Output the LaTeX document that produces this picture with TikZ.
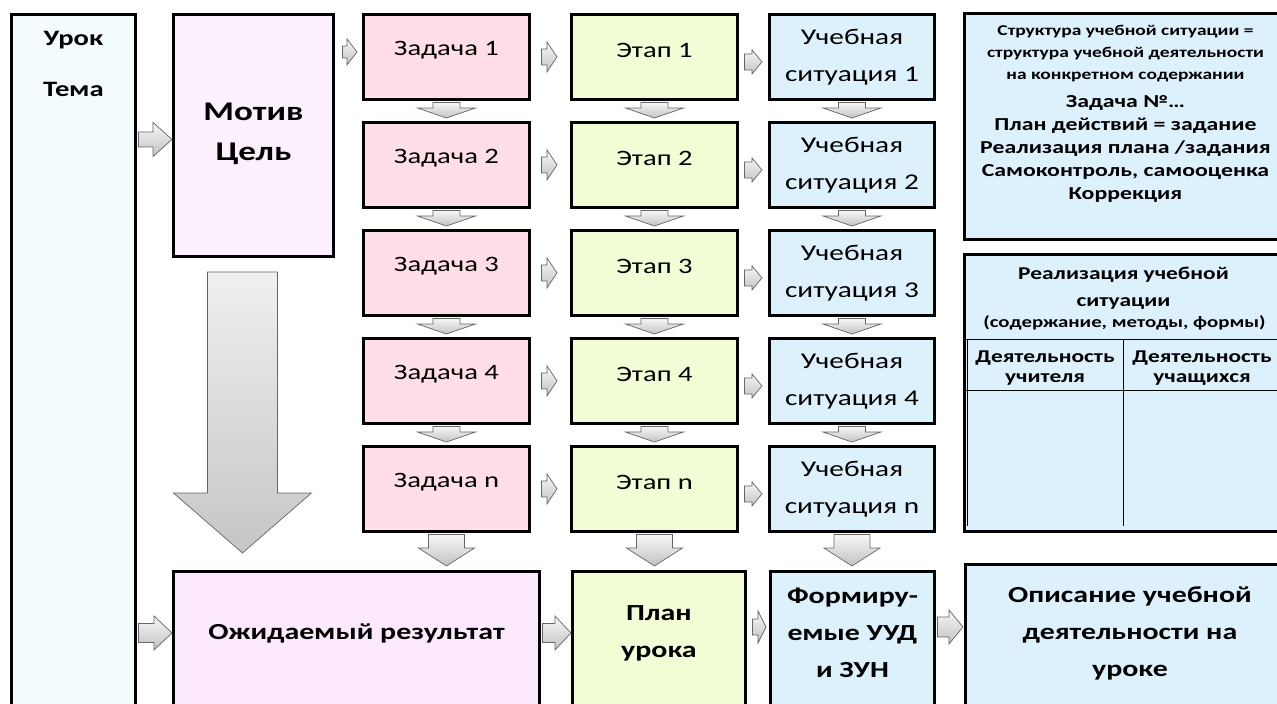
\documentclass[tikz,border=0pt]{standalone}
\usepackage{fontspec}
\setmainfont{Carlito}[FakeStretch=1.3]
\usetikzlibrary{calc}
\definecolor{cUrok}{HTML}{F3FBFF}
\definecolor{cMotiv}{HTML}{FDF0FD}
\definecolor{cZad}{HTML}{FFDEE7}
\definecolor{cEtap}{HTML}{F2FCD5}
\definecolor{cUS}{HTML}{DDF1FC}
\definecolor{cOzh}{HTML}{FDE9FD}
\tikzset{
  box/.style={draw=black, line width=2.9pt, anchor=north west, inner sep=0pt},
  txt/.style={align=center, inner sep=0pt, anchor=center, text=black},
  barr/.style={draw=black!60, line width=0.7pt, top color=gray!6, bottom color=gray!48, line join=miter},
  tline/.style={draw=black, line width=1pt},
}
% down block arrow: from, to, half shaft, half head, head length, gap at tip
\newcommand\darr[6]{%
  \path[barr] let \p1=(#1.south), \p2=(#2.north) in
   (\x1-#3pt,\y1-1.5pt) -- (\x1+#3pt,\y1-1.5pt) -- (\x1+#3pt,\y2+#6pt+#5pt) -- (\x1+#4pt,\y2+#6pt+#5pt)
   -- (\x1,\y2+#6pt) -- (\x1-#4pt,\y2+#6pt+#5pt) -- (\x1-#3pt,\y2+#6pt+#5pt) -- cycle;}
% right block arrow: from, to, y reference, half shaft, half head, head length, inset start, inset end
\newcommand\rarr[8]{%
  \path[barr] let \p1=(#1.east), \p2=(#2.west), \p3=(#3) in
   (\x1+#7pt+1.5pt,\y3+#4pt) -- (\x2-#8pt-#6pt,\y3+#4pt) -- (\x2-#8pt-#6pt,\y3+#5pt) -- (\x2-#8pt,\y3)
   -- (\x2-#8pt-#6pt,\y3-#5pt) -- (\x2-#8pt-#6pt,\y3-#4pt) -- (\x1+#7pt+1.5pt,\y3-#4pt) -- cycle;}
\begin{document}
\begin{tikzpicture}[x=1pt,y=-1pt]
\useasboundingbox (0,0) rectangle (1277,704);
\clip (0,0) rectangle (1277,704);
\fill[white] (0,0) rectangle (1277,704);

% left boxes
\node[box, fill=cUrok, minimum width=124pt, minimum height=730pt] (urok) at (10,13) {};
\node[txt, font=\bfseries\fontsize{22}{51}\selectfont] (urokT) at ($(urok.north)+(0,51)$) {Урок\\Тема};
\node[box, fill=cMotiv, minimum width=160pt, minimum height=242pt] (motiv) at (172,13) {};
\node[txt, font=\bfseries\fontsize{27}{40}\selectfont] (motivT) at ($(motiv.north)+(0,121)$) {Мотив\\Цель};

% rows
\foreach \i/\l in {1/1,2/2,3/3,4/4,5/n}{
  \pgfmathsetmacro\ty{13+108*(\i-1)}
  \node[box, fill=cZad, minimum width=166pt, minimum height=85pt] (z\i) at (362,\ty) {};
  \node[txt, font=\fontsize{22}{25}\selectfont] (z\i t) at ($(z\i.north)+(0,37)$) {Задача \l};
  \node[box, fill=cEtap, minimum width=166pt, minimum height=85pt] (e\i) at (570,\ty) {};
  \node[txt, font=\fontsize{22}{25}\selectfont] (e\i t) at ($(e\i.north)+(0,37)$) {Этап \l};
  \node[box, fill=cUS, minimum width=165pt, minimum height=85pt] (u\i) at (768,\ty) {};
  \node[txt, font=\fontsize{22.5}{37}\selectfont] (u\i t) at ($(u\i.north)+(0,44)$) {Учебная\\ситуация \l};
}

% bottom row
\node[box, fill=cOzh, minimum width=366pt, minimum height=200pt] (ozh) at (172,570) {};
\node[txt, font=\bfseries\fontsize{23}{37}\selectfont] (ozhT) at ($(ozh.north)+(0,63)$) {Ожидаемый результат};
\node[box, fill=cEtap, minimum width=173pt, minimum height=200pt] (plan) at (571,570) {};
\node[txt, font=\bfseries\fontsize{23}{37}\selectfont] (planT) at ($(plan.north)+(0,63)$) {План\\урока};
\node[box, fill=cUS, minimum width=164pt, minimum height=200pt] (form) at (769,570) {};
\node[txt, font=\bfseries\fontsize{23}{37}\selectfont] (formT) at ($(form.north)+(0,63)$) {Формиру-\\емые УУД\\и ЗУН};
\node[box, fill=cUS, minimum width=329pt, minimum height=200pt] (opis) at (964,563) {};
\node[txt, font=\bfseries\fontsize{23}{37}\selectfont] (opisT) at ($(opis.north)+(0,70)$) {Описание учебной\\деятельности на\\уроке};

% right boxes
\node[box, fill=cUS, minimum width=330pt, minimum height=226pt] (struct) at (963,12) {};
\node[txt, font=\bfseries\fontsize{15}{22}\selectfont] (structT1) at ($(struct.north)+(-4,42)$) {Структура учебной ситуации =\\структура учебной деятельности\\на конкретном содержании};
\node[txt, font=\bfseries\fontsize{18.3}{23}\selectfont] (structT2) at ($(struct.north)+(-4,137)$) {Задача №…\\План действий = задание\\Реализация плана /задания\\Самоконтроль, самооценка\\Коррекция};

\node[box, fill=cUS, minimum width=330pt, minimum height=277pt] (real) at (963,253) {};
\node[txt, font=\bfseries\fontsize{18}{27}\selectfont] (realT1) at ($(real.north)+(-6,35)$) {Реализация учебной\\ситуации};
\node[txt, font=\bfseries\fontsize{16}{20}\selectfont] (realT2) at ($(real.north)+(-5,70)$) {(содержание, методы, формы)};
\coordinate (tl) at ($(real.north west)+(4,86)$);
\coordinate (tm) at ($(real.north west)+(160,86)$);
\coordinate (tr) at ($(real.north east)+(0,86)$);
\coordinate (hl) at ($(real.north west)+(4,137)$);
\coordinate (hr) at ($(real.north east)+(0,137)$);
\coordinate (bl) at ($(real.south west)+(4,-7)$);
\coordinate (bm) at ($(real.south west)+(160,-7)$);
\draw[tline] (real.west |- tl) -- (tr);
\draw[tline] (real.west |- hl) -- (hr);
\draw[tline] (tl) -- (bl);
\draw[tline] (tm) -- (bm);
\node[txt, font=\bfseries\fontsize{18}{20}\selectfont] (col1) at ($(tl)!0.5!(tm)+(0,29)$) {Деятельность\\учителя};
\node[txt, font=\bfseries\fontsize{18}{20}\selectfont] (col2) at ($(tm)+(79,29)$) {Деятельность\\учащихся};

% down arrows between rows
\foreach \c in {z,e,u}{
  \foreach \i/\j in {1/2,2/3,3/4,4/5}{
    \darr{\c\i}{\c\j}{13.5}{29}{10}{3}
  }
}
\darr{z5}{ozh}{18}{28}{18}{4}
\darr{e5}{plan}{18}{28}{18}{4}
\darr{u5}{form}{18}{28}{18}{4}

% big arrow
\path[barr, top color=gray!12, bottom color=gray!45] let \p1=(motiv.south), \p2=(ozh.north) in
  (\x1-46pt,\y1-14pt) -- (\x1+24pt,\y1-14pt) -- (\x1+24pt,\y2+77pt) -- (\x1+58pt,\y2+77pt)
  -- (\x1-11pt,\y2+17pt) -- (\x1-80pt,\y2+77pt) -- (\x1-46pt,\y2+77pt) -- cycle;

% right arrows
\rarr{urok}{motiv}{$(motiv.west)+(0,4)$}{7.5}{17}{19}{0}{0}
\rarr{motiv}{z1}{$(z1.west)+(0,-5)$}{6}{13}{10}{6}{5}
\foreach \i in {1,...,5}{
  \rarr{z\i}{e\i}{z\i.east}{8}{15}{10}{9}{13}
  \rarr{e\i}{u\i}{$(e\i.east)+(0,5)$}{8}{12}{10}{4}{6}
}
\rarr{urok}{ozh}{$(urok.east |- ozhT)$}{9.5}{17}{18}{0}{0}
\rarr{ozh}{plan}{$(ozh.east |- ozhT)$}{9.5}{17}{16}{0}{0}
\rarr{plan}{form}{$(plan.east |- formT)+(0,-6)$}{8}{16}{8}{4}{3}
\rarr{form}{opis}{$(form.east |- formT)+(0,-6)$}{10}{17}{14}{0}{1}
\end{tikzpicture}
\end{document}
